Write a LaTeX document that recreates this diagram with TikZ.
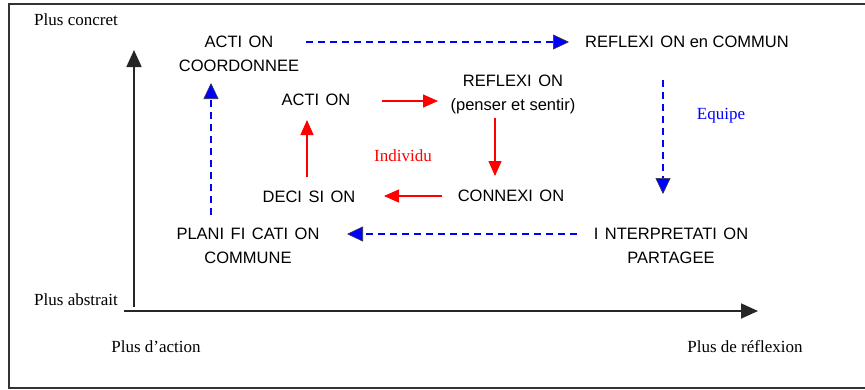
\documentclass[tikz,border=0pt]{standalone}
\usepackage{fontspec}
\setmainfont{Liberation Serif}
\newfontfamily\sansf{Liberation Sans}
\usetikzlibrary{arrows.meta}
\newcommand\Ik{I\kern6.5pt\relax}
\tikzset{
  lbl/.style={inner sep=0pt, font=\sansf\fontsize{16.5}{24}\selectfont, text=black},
  serif/.style={inner sep=0pt, font=\fontsize{17}{22}\selectfont},
  redarr/.style={draw=red, line width=1.3pt, -{Triangle[length=15pt,width=13pt]}},
  bluearr/.style={draw=blue, line width=1.3pt, dash pattern=on 7pt off 5pt,
     -{Triangle[length=16pt,width=15pt,fill=blue,color=black!80,line width=0.6pt]}},
  axis/.style={draw=black!85, line width=1.8pt, -{Triangle[length=17pt,width=15pt]}}
}
\begin{document}
\begin{tikzpicture}[x=1pt,y=-1pt]
\useasboundingbox (0,0) rectangle (865,389);
% frame
\draw[line width=1.5pt, black!80] (866,4) -- (9,4) -- (9,388) -- (866,388);
% axes
\coordinate (vb) at (134,307);
\coordinate (vt) at (134,50);
\coordinate (hl) at (124,311);
\coordinate (hr) at (758,311);
\draw[axis] (vb) -- (vt);
\draw[axis] (hl) -- (hr);
% axis labels
\node[serif] (pc) at (76,20) {Plus concret};
\node[serif] (pa) at (76,300) {Plus abstrait};
\node[serif] (pda) at (156,347) {Plus d’action};
\node[serif] (pdr) at (745,347) {Plus de réflexion};
% nodes
\node[lbl] (acA) at (239,42) {ACT\Ik ON};
\node[lbl] (acB) at (239,66) {COORDONNEE};
\node[lbl] (act) at (316,100) {ACT\Ik ON};
\node[lbl] (rfA) at (513,81) {REFLEX\Ik ON};
\node[lbl] (rfB) at (513,106) {(penser et sentir)};
\node[lbl] (rc) at (687,42) {REFLEX\Ik ON en COMMUN};
\node[serif, text=blue] (eq) at (721,116) {Equipe};
\node[serif, text=red] (ind) at (403,156) {Individu};
\node[lbl] (dec) at (309,197) {DEC\Ik S\Ik ON};
\node[lbl] (con) at (511,196) {CONNEX\Ik ON};
\node[lbl] (plA) at (248,234) {PLAN\Ik F\Ik CAT\Ik ON};
\node[lbl] (plB) at (248,258) {COMMUNE};
\node[lbl] (inA) at (671,234) {\Ik NTERPRETAT\Ik ON};
\node[lbl] (inB) at (671,258) {PARTAGEE};
% blue connectors (equipe)
\draw[bluearr, shorten <=67pt, shorten >=118pt] (acA.center) -- (acA.center -| rc.center);
\draw[bluearr, shorten <=38pt, shorten >=40pt] ([xshift=-24pt]rc.center) -- ([xshift=-24pt]rc.center |- inA.center);
\draw[bluearr, shorten <=94pt, shorten >=99pt] (inA.center) -- (inA.center -| plA.center);
\draw[bluearr, shorten <=19pt, shorten >=17pt] ([xshift=-37pt]plA.center) -- ([xshift=-37pt]plA.center |- acB.center);
% red connectors (individu)
\draw[redarr, shorten <=66pt, shorten >=75pt] ([yshift=-1pt]act.center) -- ([yshift=-1pt]act.center -| rfB.center);
\draw[redarr, shorten <=12pt, shorten >=20pt] ([xshift=-18pt]rfB.center) -- ([xshift=-18pt]rfB.center |- con.center);
\draw[redarr, shorten <=69pt, shorten >=75pt] (con.center) -- (con.center -| dec.center);
\draw[redarr, shorten <=20pt, shorten >=20pt] ([xshift=-2pt]dec.center) -- ([xshift=-2pt]dec.center |- act.center);
\end{tikzpicture}
\end{document}
